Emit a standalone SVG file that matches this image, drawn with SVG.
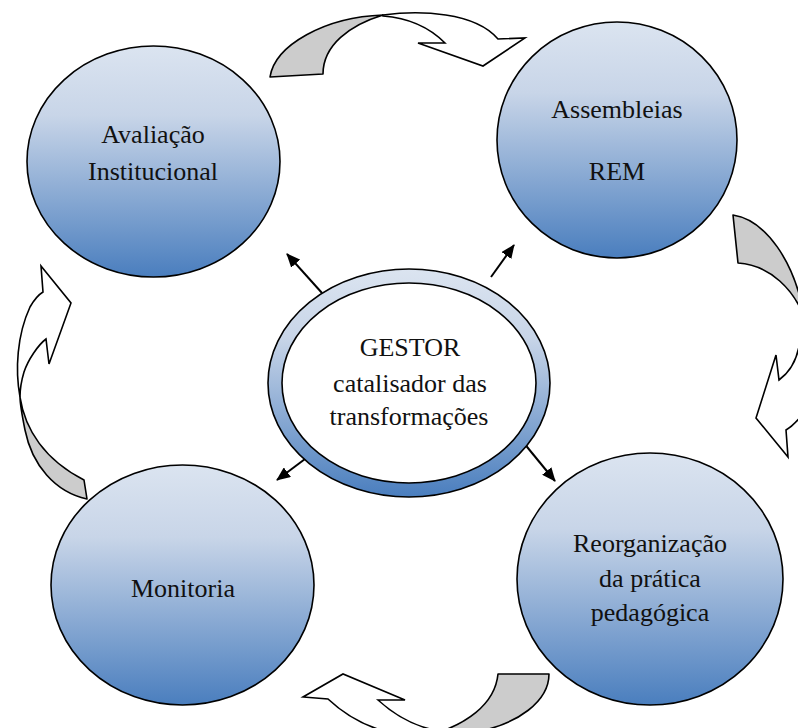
<svg xmlns="http://www.w3.org/2000/svg" width="798" height="728" viewBox="0 0 798 728">
<defs>
<linearGradient id="blueGrad" x1="0" y1="0" x2="0" y2="1">
<stop offset="0" stop-color="#dbe4f0"/>
<stop offset="0.3" stop-color="#c8d5e8"/>
<stop offset="1" stop-color="#4a7ebe"/>
</linearGradient>
<marker id="ah" markerWidth="14" markerHeight="12" refX="13" refY="6" orient="auto" markerUnits="userSpaceOnUse" viewBox="0 0 14 12">
<path d="M0,0 L14,6 L0,12 Z" fill="#000"/>
</marker>
<style>
.node{fill:url(#blueGrad);stroke:#000;stroke-width:1.6}
.lbl{font-family:"Liberation Serif","Times New Roman",serif;font-size:26px;fill:#111;text-anchor:middle}
.back{fill:#cccccc;stroke:#000;stroke-width:1.6;stroke-linejoin:round}
.front{fill:#fff;stroke:#000;stroke-width:1.6;stroke-linejoin:miter}
.con{stroke:#000;stroke-width:2;fill:none}
</style>
</defs>
<rect width="798" height="728" fill="#fff"/>

<g id="curved-arrows">
<g id="arrow-top">
<path class="back" d="M270,77 C275,45 325,17 383,15 C350,25 323,45 323,74 Z"/>
<path class="front" d="M383,15 C420,10 475,12 498,39 L525,38 L483,66 L418,43 L445,43 C430,28 410,18 383,16 Z"/>
</g>
<g id="arrow-right">
<path class="back" d="M733,215 C765,220 795,260 805,320 C795,290 770,265 738,263 Z"/>
<path class="front" d="M800,340 C798,358 790,372 779,380 L776,355 L756,418 L788,457 L786,430 C791,427 797,422 806,410 L812,340 Z"/>
</g>
<g id="arrow-bottom">
<path class="back" d="M498,674 L549,674 C549,700 520,725 470,733 L430,735 C465,725 495,705 498,674 Z"/>
<path class="front" d="M440,731 C420,728 400,720 378,700 L405,700 L343,674 L303,697 L328,699 C345,715 365,727 392,733 Z"/>
</g>
<g id="arrow-left">
<path class="back" d="M87,499 C55,492 32,465 25,430 C22,415 20,405 20,397 C25,430 45,460 84,480 Z"/>
<path class="front" d="M20,397 C15,370 17,335 30,307 C34,300 38,295 43,292 L41,266 L71,303 L49,364 L46,339 C38,345 28,360 24,372 C21,382 20,390 20,397 Z"/>
</g>
</g>

<g id="connectors">
<line class="con" x1="322" y1="293" x2="287" y2="254" marker-end="url(#ah)"/>
<line class="con" x1="491" y1="277" x2="514" y2="245" marker-end="url(#ah)"/>
<line class="con" x1="313" y1="453" x2="277" y2="480" marker-end="url(#ah)"/>
<line class="con" x1="523" y1="442" x2="555" y2="481" marker-end="url(#ah)"/>
</g>

<g id="node-avaliacao">
<ellipse class="node" cx="153.5" cy="161.5" rx="126.5" ry="115.5"/>
<text class="lbl" x="153" y="143">Avaliação</text>
<text class="lbl" x="153" y="180">Institucional</text>
</g>

<g id="node-assembleias">
<ellipse class="node" cx="617" cy="140" rx="120" ry="118"/>
<text class="lbl" x="617" y="118">Assembleias</text>
<text class="lbl" x="617" y="180">REM</text>
</g>

<g id="node-monitoria">
<ellipse class="node" cx="182.5" cy="585" rx="131.5" ry="120"/>
<text class="lbl" x="183" y="597">Monitoria</text>
</g>

<g id="node-reorganizacao">
<ellipse class="node" cx="650" cy="579" rx="133" ry="126"/>
<text class="lbl" x="650" y="552">Reorganização</text>
<text class="lbl" x="650" y="587">da prática</text>
<text class="lbl" x="650" y="621">pedagógica</text>
</g>

<g id="node-gestor">
<ellipse cx="409" cy="383" rx="141" ry="114" fill="url(#blueGrad)" stroke="#000" stroke-width="1.6"/>
<ellipse cx="409" cy="383" rx="127" ry="100" fill="#fff" stroke="#000" stroke-width="1.6"/>
<text class="lbl" x="410" y="356">GESTOR</text>
<text class="lbl" x="410" y="392">catalisador das</text>
<text class="lbl" x="409" y="425">transformações</text>
</g>
</svg>
